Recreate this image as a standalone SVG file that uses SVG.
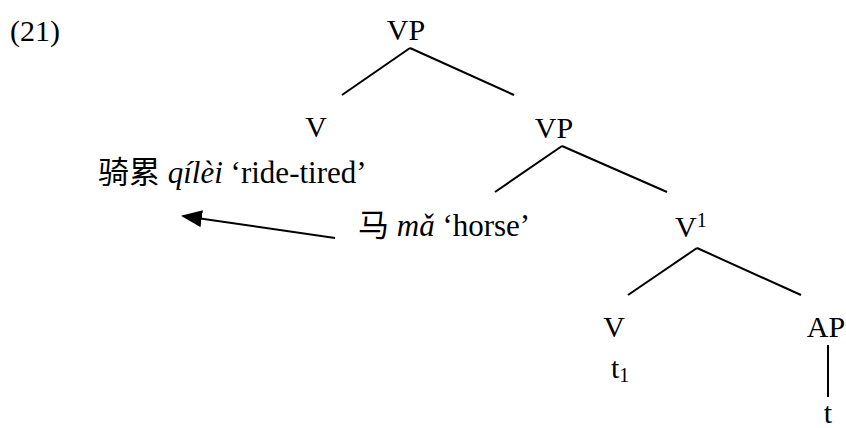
<svg xmlns="http://www.w3.org/2000/svg" width="846" height="428" viewBox="0 0 846 428">
<style>
text{font-family:"Liberation Serif","Noto Sans CJK SC",serif;font-size:30px;fill:#000}
.n{text-anchor:middle}
.it{font-style:italic}
.g{font-size:31px}
.s{font-size:20px}
line{stroke:#000;stroke-width:2;fill:none}
</style>
<defs>
<marker id="ah" viewBox="0 0 10 10" refX="9" refY="5" markerWidth="21" markerHeight="17" markerUnits="userSpaceOnUse" orient="auto" preserveAspectRatio="none">
<path d="M0,0 L10,5 L0,10 z" fill="#000"/>
</marker>
</defs>
<rect width="846" height="428" fill="#fff"/>
<g id="label"><text x="10" y="41">(21)</text></g>
<g id="vp1"><text class="n" x="406" y="40">VP</text></g>
<g id="v1"><text class="n" x="316" y="137">V</text></g>
<g id="gloss1"><text class="g" x="98" y="183">骑累 <tspan class="it">qílèi</tspan> ‘ride-tired’</text></g>
<g id="vp2"><text class="n" x="554" y="138">VP</text></g>
<g id="horse"><text class="g" x="358" y="236">马 <tspan class="it">mǎ</tspan> ‘horse’</text></g>
<g id="vbar"><text x="675" y="237">V<tspan class="s" dy="-10">1</tspan></text></g>
<g id="v2"><text class="n" x="614" y="337">V</text></g>
<g id="ap"><text class="n" x="826" y="337">AP</text></g>
<g id="t1"><text x="611" y="378">t<tspan class="s" dy="4">1</tspan></text></g>
<g id="t"><text class="n" x="828" y="423">t</text></g>
<g id="connectors">
<line x1="410" y1="48" x2="342" y2="95"/>
<line x1="410" y1="48" x2="514" y2="95"/>
<line x1="562" y1="146" x2="495" y2="192"/>
<line x1="562" y1="146" x2="667" y2="192"/>
<line x1="697" y1="248" x2="628" y2="295"/>
<line x1="697" y1="248" x2="801" y2="295"/>
<line x1="828" y1="345" x2="828" y2="397"/>
<line x1="335" y1="238" x2="183" y2="216" marker-end="url(#ah)"/>
</g>
</svg>
